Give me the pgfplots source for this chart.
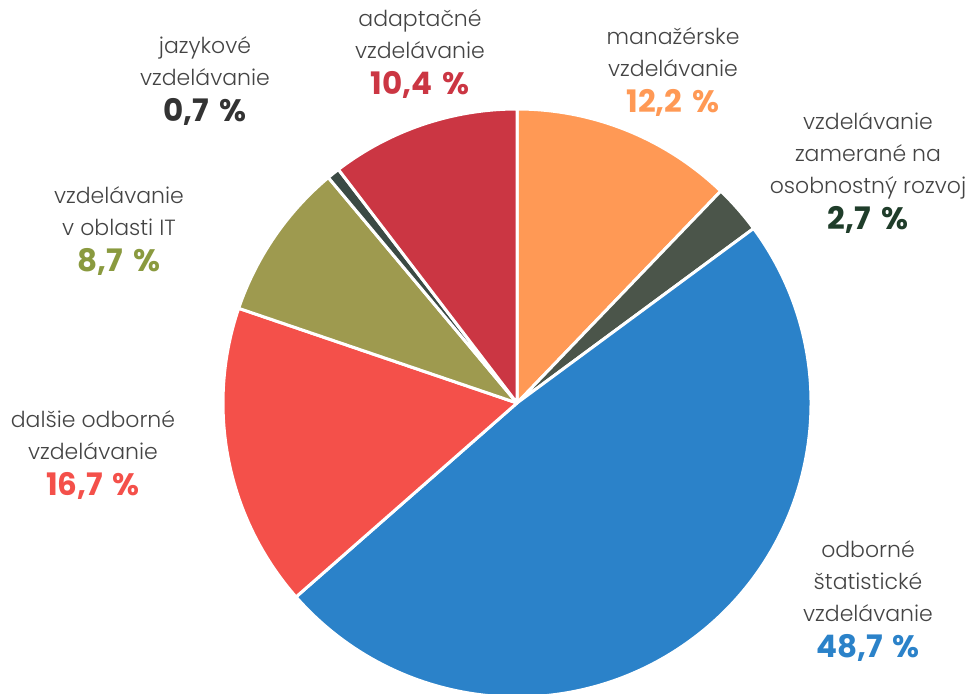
\documentclass[border=0pt]{standalone}
\usepackage{pgfplots}
\pgfplotsset{compat=1.18}
\usepackage{pgfplotstable}
\usepackage{fontspec}
\setmainfont{Poppins}[UprightFont=* Light, BoldFont=* Bold]

\definecolor{cOrange}{HTML}{FF9955}
\definecolor{cSlate}{HTML}{4B554A}
\definecolor{cBlue}{HTML}{2B82C9}
\definecolor{cRed}{HTML}{F4504A}
\definecolor{cOlive}{HTML}{9E9A4F}
\definecolor{cDark}{HTML}{3B4A44}
\definecolor{cCrimson}{HTML}{CB3643}
\definecolor{tGray}{HTML}{444444}
\definecolor{pDark}{HTML}{333333}
\definecolor{pGreen}{HTML}{1F3D2A}
\definecolor{pOlive}{HTML}{8A9A3F}

% shares in percent, clockwise from 12 o'clock
\pgfplotstableread{
share color
12.2 cOrange
2.7  cSlate
48.7 cBlue
16.7 cRed
8.7  cOlive
0.7  cDark
10.4 cCrimson
}\piedata

\newcommand{\lab}[5]{% x, y (top), lines, percent, colour
  \node[anchor=north, align=center, inner sep=0pt, text=tGray,
        font=\fontsize{11}{16}\selectfont] at (axis cs:#1,#2)
    {#3\\[2pt]{\fontsize{15.5}{15.5}\selectfont\bfseries\color{#5}#4\hspace{0.32em}\%}};}

\begin{document}
\begin{tikzpicture}
\begin{axis}[
  scale only axis,
  width=486pt, height=346.5pt,
  xmin=0, xmax=972, ymin=0, ymax=693,
  hide axis,
]
\coordinate (bl) at (rel axis cs:0,0);
\coordinate (tr) at (rel axis cs:1,1);
\def\cum{0}
\pgfplotsforeachungrouped \i in {0,...,6}{
  \pgfplotstablegetelem{\i}{share}\of\piedata \let\v\pgfplotsretval
  \pgfplotstablegetelem{\i}{color}\of\piedata \let\c\pgfplotsretval
  \pgfmathsetmacro\a{90-3.6*\cum/1.001}
  \pgfmathsetmacro\b{90-3.6*(\cum+\v)/1.001}
  \edef\temp{\noexpand\fill[\c, draw=white, line width=1.5pt, line join=round]
    (axis cs:517,290) -- (axis cs:{517+294*cos(\a)},{290+294*sin(\a)})
    arc[start angle=\a, end angle=\b, radius=294] -- cycle;}
  \temp
  \pgfmathsetmacro\cum{\cum+\v}
}
\lab{205}{657}{jazykové\\vzdelávanie}{0,7}{pDark}
\lab{420}{684}{adaptačné\\vzdelávanie}{10,4}{cCrimson}
\lab{673}{666}{manažérske\\vzdelávanie}{12,2}{cOrange}
\lab{868}{581}{vzdelávanie\\zamerané na\\osobnostný rozvoj}{2,7}{pGreen}
\lab{119}{507}{vzdelávanie\\v oblasti IT}{8,7}{pOlive}
\lab{93}{283}{dalšie odborné\\vzdelávanie}{16,7}{cRed}
\lab{868}{153}{odborné\\štatistické\\vzdelávanie}{48,7}{cBlue}
\end{axis}
\pgfresetboundingbox
\useasboundingbox (bl) rectangle (tr);
\end{tikzpicture}
\end{document}
